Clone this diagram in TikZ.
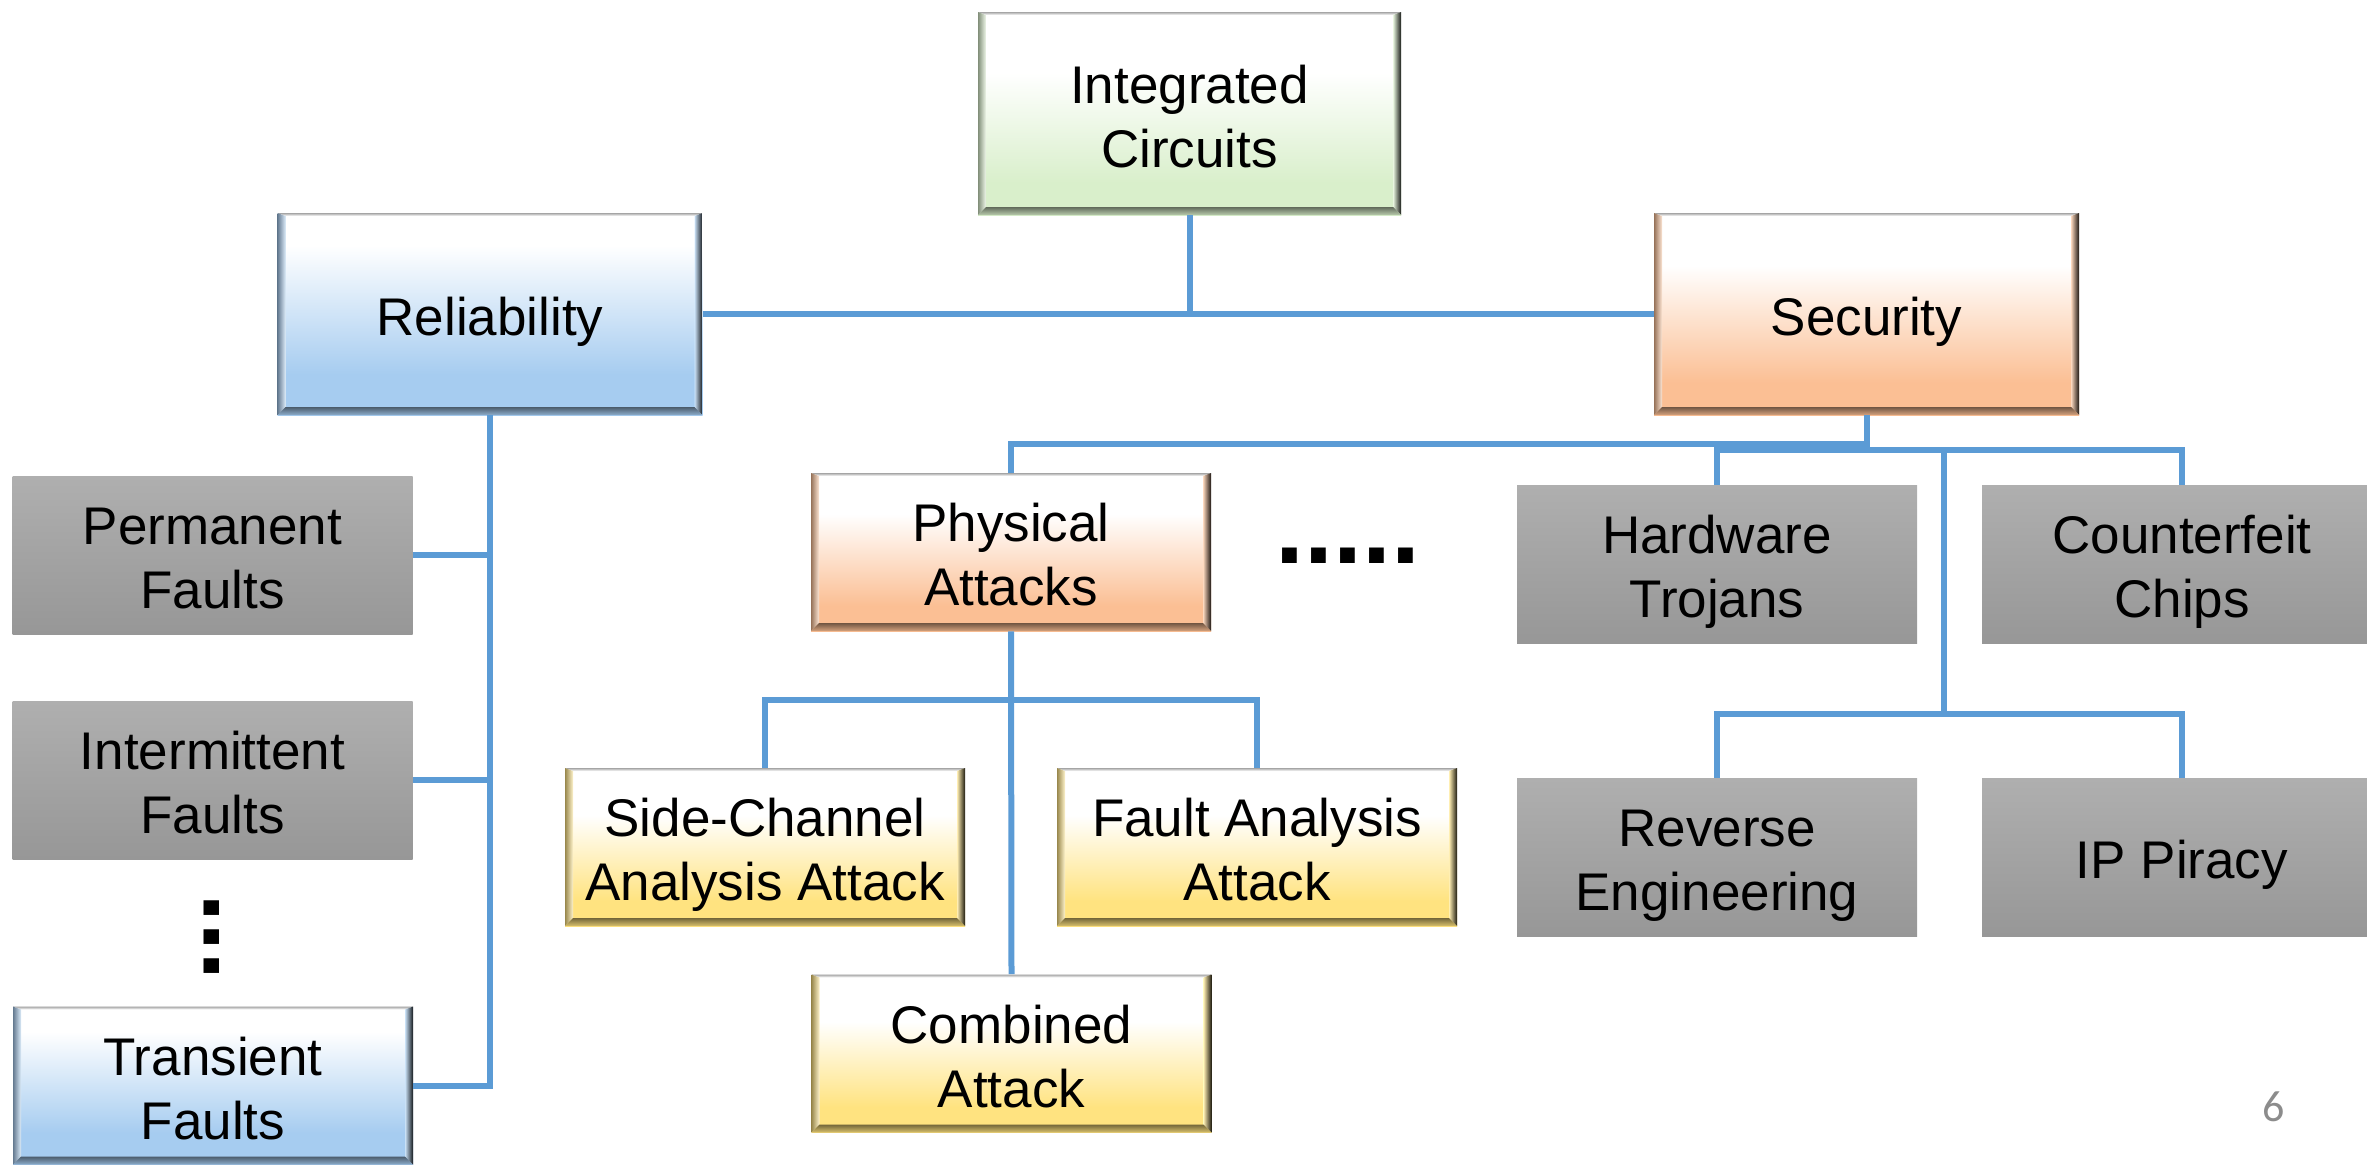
\documentclass[tikz,border=0pt]{standalone}
\usepackage{fontspec}
\setmainfont{Liberation Sans}
\newfontfamily\slidefont{Carlito}
\usetikzlibrary{calc}

% palette
\definecolor{linkblue}{HTML}{5B9BD5}
\definecolor{relblue}{HTML}{A6CCF0}
\definecolor{secorange}{HTML}{FBBF94}
\definecolor{icgreen}{HTML}{D9EFCB}
\definecolor{atkyellow}{HTML}{FFE380}
\definecolor{grayhi}{HTML}{AFAFAF}
\definecolor{graylo}{HTML}{979797}

% white-to-colour fills (path spans 25bp..75bp)
\pgfdeclareverticalshading{relblueshade}{100bp}{color(0bp)=(relblue); color(35bp)=(relblue); color(67bp)=(white); color(100bp)=(white)}
\pgfdeclareverticalshading{secorangeshade}{100bp}{color(0bp)=(secorange); color(33bp)=(secorange); color(62bp)=(white); color(100bp)=(white)}
\pgfdeclareverticalshading{icgreenshade}{100bp}{color(0bp)=(icgreen); color(33bp)=(icgreen); color(60bp)=(white); color(100bp)=(white)}
\pgfdeclareverticalshading{atkyellowshade}{100bp}{color(0bp)=(atkyellow); color(33bp)=(atkyellow); color(60bp)=(white); color(100bp)=(white)}

% fixed line ascent/descent so every label sits at the same height
\newcommand\capstrut{\rule{0pt}{27.5pt}}
\newcommand\descstrut{\rule[-5.6pt]{0pt}{0pt}}

\tikzset{
  boxtext/.style={inner sep=0pt, align=center, text=black,
    font=\fontsize{26.5pt}{32pt}\selectfont},
  bigbox/.style={minimum width=212.5pt, minimum height=101pt},
  smallbox/.style={minimum width=200pt, minimum height=79pt},
  flatbox/.style={boxtext, smallbox, top color=grayhi, bottom color=graylo},
  bevelbox/.style={boxtext, shade, shading=#1shade, path picture={
      \coordinate (bsw) at (path picture bounding box.south west);
      \coordinate (bne) at (path picture bounding box.north east);
      \coordinate (bnw) at (bsw |- bne);
      \coordinate (bse) at (bne |- bsw);
      \coordinate (isw) at ($(bsw)+(4pt,4pt)$);
      \coordinate (ine) at ($(bne)+(-4pt,-1.5pt)$);
      \coordinate (inw) at (isw |- ine);
      \coordinate (ise) at (ine |- isw);
      \shade[top color=black!35, bottom color=white] (bnw) -- (bne) -- (ine) -- (inw) -- cycle;
      \shade[left color=black!40!#1, right color=#1!40!white] (bsw) -- (bnw) -- (inw) -- (isw) -- cycle;
      \shade[left color=#1!60!white, right color=black!88!#1] (bse) -- (bne) -- (ine) -- (ise) -- cycle;
      \shade[top color=#1!45!black, bottom color=#1!85!black] (bsw) -- (bse) -- (ise) -- (isw) -- cycle;
  }},
  conn/.style={draw=linkblue, line width=3pt},
  dotrow/.style={inner sep=0pt, font=\fontsize{52pt}{52pt}\selectfont\bfseries},
}

\begin{document}
\begin{tikzpicture}[x=0.5pt,y=-0.5pt]
\useasboundingbox (0,0) rectangle (2367,1164);

% top level
\node[bevelbox=icgreen, minimum width=211.5pt, minimum height=101.5pt] (ic) at (1189.5,113.5) {\capstrut Integrated\\Circuits\descstrut};
\node[bevelbox=relblue, bigbox] (rel) at (490,314) {\capstrut Reliability\descstrut};
\node[bevelbox=secorange, bigbox] (sec) at (1866.5,314) {\capstrut Security\descstrut};

% reliability branch
\node[flatbox] (perm) at (212.5,555) {\capstrut Permanent\\Faults\descstrut};
\node[flatbox] (inter) at (212.5,780) {\capstrut Intermittent\\Faults\descstrut};
\node[bevelbox=relblue, smallbox] (trans) at (213,1085.5) {\capstrut Transient\\Faults\descstrut};
\node[dotrow, rotate=90] (vdots) at (212,937) {...};

% physical attacks
\node[bevelbox=secorange, smallbox] (pa) at (1011,552) {\capstrut Physical\\Attacks\descstrut};
\node[bevelbox=atkyellow, smallbox] (sca) at (765,847) {\capstrut Side-Channel\\Analysis Attack\descstrut};
\node[bevelbox=atkyellow, smallbox] (fa) at (1257,847) {\capstrut Fault Analysis\\Attack\descstrut};
\node[bevelbox=atkyellow, smallbox] (comb) at (1011.5,1053.5) {\capstrut Combined\\Attack\descstrut};
\node[dotrow] (hdots) at (1348,555.5) {.....};

% other security threats
\node[flatbox] (hw) at (1717,564) {\capstrut Hardware\\Trojans\descstrut};
\node[flatbox] (cc) at (2182,564) {\capstrut Counterfeit\\Chips\descstrut};
\node[flatbox] (re) at (1717,857) {\capstrut Reverse\\Engineering\descstrut};
\node[flatbox] (ip) at (2182,857) {\capstrut IP Piracy\descstrut};

% slide number
\node[inner sep=0pt, text=black!45, font=\slidefont\fontsize{22pt}{26pt}\selectfont] (pagenum) at (2274,1107) {6};

% bus coordinates
\coordinate (busA) at (0,444);
\coordinate (busB) at (1944,450);
\coordinate (busC) at (1944,714);
\coordinate (busD) at (0,700);

% connectors
\draw[conn] (ic.south) -- (ic.south |- rel.east);
\draw[conn] (rel.east) -- (sec.west);

\draw[conn] (rel.south) -- (rel.south |- trans.east) -- (trans.east);
\draw[conn] (perm.east) -- (rel.south |- perm.east);
\draw[conn] (inter.east) -- (rel.south |- inter.east);

\draw[conn] (sec.south) -- ($(sec.south |- busB)+(0,1)$);
\draw[conn] (pa.north) |- (sec.south |- busA);
\draw[conn] (hw.north) |- (busB) -| (cc.north);
\draw[conn] (busB) -- (busC);
\draw[conn] (re.north) |- (busC) -| (ip.north);

\draw[conn] (pa.south) -- (comb.north);
\draw[conn] (sca.north) |- (pa.south |- busD) -| (fa.north);
\end{tikzpicture}
\end{document}
